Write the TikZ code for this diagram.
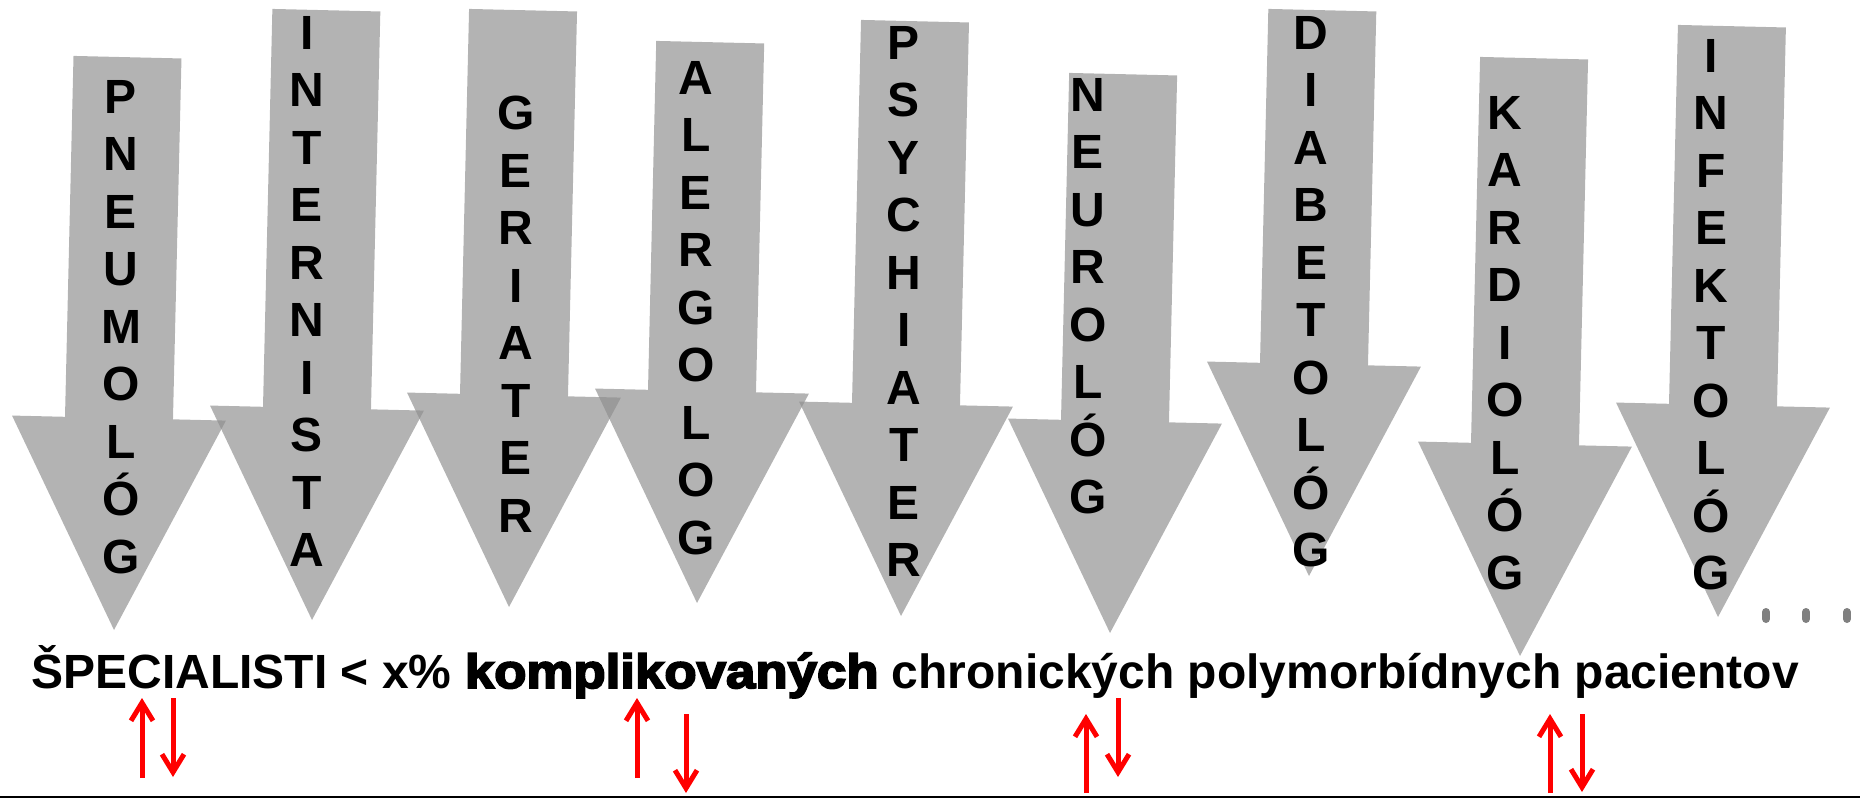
\documentclass[tikz,border=0pt]{standalone}
\usepackage{fontspec}
\setmainfont{Liberation Sans}
\newfontfamily\heavyfont{Liberation Sans}[FakeStretch=1.1,BoldFeatures={FakeBold=4}]
\usetikzlibrary{arrows.meta}

\tikzset{
  specfill/.style={fill=black!45, fill opacity=0.66},
  letters/.style={anchor=north, inner sep=0pt, align=center, font=\fontsize{24}{28.75}\selectfont\bfseries},
  updown/.style={draw=red, line width=2.5pt, -{Straight Barb[length=9pt,width=11pt]}},
}

% tip x, tip y, length of the arrow
\newcommand{\specarrow}[3]{%
  \fill[specfill, shift={(#1,#2)}, rotate=-1.35]
    (0,0) -- (-107,-212) -- (-54,-212) -- (-54,-#3) -- (54,-#3) -- (54,-212) -- (107,-212) -- cycle;}

\begin{document}
\begin{tikzpicture}[x=0.5pt,y=-0.5pt]
	\useasboundingbox (0,0) rectangle (1860,798);
	% gray arrows
	\specarrow{114}{630}{573}
	\specarrow{312}{620}{610}
	\specarrow{509}{607}{597}
	\specarrow{697}{603}{561}
	\specarrow{901}{616}{595}
	\specarrow{1110}{633}{559}
	\specarrow{1309}{576}{566}
	\specarrow{1520}{656}{598}
	\specarrow{1718}{617}{591}
	% names of the specialists
	\node[letters] (pneumolog) at (121,80) {P\\N\\E\\U\\M\\O\\L\\Ó\\G};
	\node[letters] (internista) at (307,16) {I\\N\\T\\E\\R\\N\\I\\S\\T\\A};
	\node[letters] (geriater) at (516,96) {G\\E\\R\\I\\A\\T\\E\\R};
	\node[letters] (alergolog) at (696,61) {A\\L\\E\\R\\G\\O\\L\\O\\G};
	\node[letters] (psychiater) at (904,26) {P\\S\\Y\\C\\H\\I\\A\\T\\E\\R};
	\node[letters] (neurolog) at (1088,78) {N\\E\\U\\R\\O\\L\\Ó\\G};
	\node[letters] (diabetolog) at (1311,16) {D\\I\\A\\B\\E\\T\\O\\L\\Ó\\G};
	\node[letters] (kardiolog) at (1505,96) {K\\A\\R\\D\\I\\O\\L\\Ó\\G};
	\node[letters] (infektolog) at (1711,39) {I\\N\\F\\E\\K\\T\\O\\L\\Ó\\G};
	% dots
	\foreach \x in {1766,1806,1847}
		\draw[black!50, line width=4pt, line cap=round] (\x,612) -- (\x,619);
	% sentence
	\node[anchor=base west, inner sep=0pt, font=\fontsize{24}{28}\selectfont\bfseries] (veta) at (31,688)
		{ŠPECIALISTI < x\% {\heavyfont\bfseries komplikovaných} chronických polymorbídnych pacientov};
	% red arrows
	\foreach \x/\a/\b in {142/778/698, 173/698/777, 637/778/698, 686/714/793, 1086/793/714, 1118/698/777, 1550/793/714, 1582/714/792}
		\draw[updown] (\x,\a) -- (\x,\b);
	\draw[line width=1.5pt] (0,797) -- (1860,797);
\end{tikzpicture}
\end{document}
